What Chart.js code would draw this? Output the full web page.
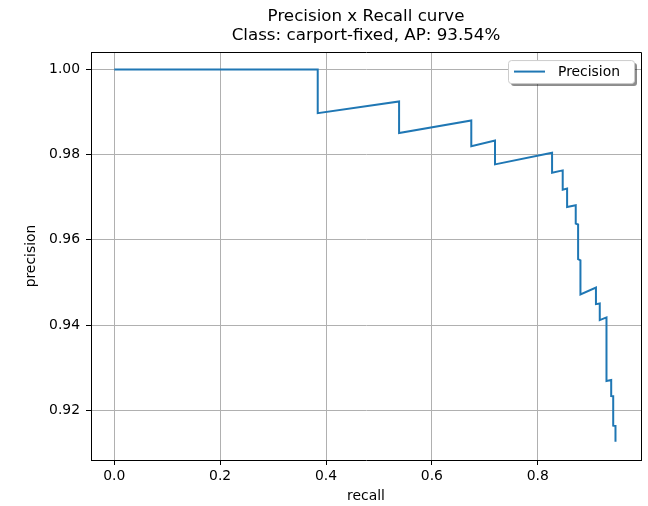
<!DOCTYPE html>
<html>
<head>
<meta charset="utf-8">
<script src="https://cdn.jsdelivr.net/npm/chart.js@4.4.1/dist/chart.umd.min.js"></script>
<style>
  html, body { margin: 0; padding: 0; background: #fff; }
  #wrap { width: 648px; height: 506px; }
</style>
</head>
<body>
<div id="wrap"><canvas id="prChart" width="648" height="506"></canvas></div>
<script>
// values
const recall = [0.0, 0.3843, 0.3843, 0.538, 0.538, 0.6744, 0.6744, 0.7192, 0.7192, 0.827, 0.827,
  0.8471, 0.8471, 0.8554, 0.8554, 0.8717, 0.8717, 0.8762, 0.8762, 0.8806, 0.8806, 0.9099, 0.9099,
  0.9171, 0.9171, 0.9298, 0.9298, 0.9387, 0.9387, 0.9425, 0.9425, 0.9468, 0.9468];
const precision = [1.0, 1.0, 0.98975, 0.9925, 0.98507, 0.98804, 0.982, 0.98335, 0.97773, 0.98047, 0.97578,
  0.97632, 0.97179, 0.97203, 0.96772, 0.96811, 0.96382, 0.9636, 0.95545, 0.9552, 0.94717, 0.94881, 0.9449,
  0.94506, 0.94115, 0.94178, 0.92685, 0.92708, 0.92333, 0.9233, 0.91637, 0.9163, 0.91261];
const xTicks = [0.0, 0.2, 0.4, 0.6, 0.8];
const yTicks = [0.92, 0.94, 0.96, 0.98, 1.00];
const titleLines = ['Precision x Recall curve', 'Class: carport-fixed, AP: 93.54%'];
const seriesName = 'Precision';

const FONT = 'DejaVu Sans';
const LINE_COLOR = '#1f77b4';

// top + right spines, matplotlib style
const framePlugin = {
  id: 'frame',
  afterDraw(chart) {
    const { ctx, chartArea: a } = chart;
    ctx.save();
    ctx.strokeStyle = '#000';
    ctx.lineWidth = 1;
    ctx.beginPath();
    ctx.moveTo(Math.round(a.left) + 0.5, Math.round(a.top) + 0.5);
    ctx.lineTo(Math.round(a.right) + 0.5, Math.round(a.top) + 0.5);
    ctx.lineTo(Math.round(a.right) + 0.5, Math.round(a.bottom) + 0.5);
    ctx.stroke();
    ctx.restore();
  }
};

// legend box in the upper right corner with a shadow
const legendBox = {
  id: 'legendBox',
  afterDraw(chart) {
    const { ctx, chartArea: a } = chart;
    const w = 126, h = 23;
    const x = a.right - 7 - w, y = a.top + 8;
    const rr = (px, py) => {
      ctx.beginPath();
      ctx.roundRect(px, py, w, h, 3);
    };
    ctx.save();
    ctx.fillStyle = 'rgba(0,0,0,0.45)';
    rr(x + 3, y + 3);
    ctx.fill();
    ctx.fillStyle = '#fff';
    ctx.strokeStyle = '#cccccc';
    ctx.lineWidth = 1;
    rr(x + 0.5, y + 0.5);
    ctx.fill();
    ctx.stroke();

    ctx.strokeStyle = LINE_COLOR;
    ctx.lineWidth = 2;
    ctx.beginPath();
    ctx.moveTo(x + 6, y + 11.5);
    ctx.lineTo(x + 37, y + 11.5);
    ctx.stroke();

    ctx.fillStyle = '#000';
    ctx.font = '13.9px "' + FONT + '"';
    ctx.textBaseline = 'middle';
    ctx.fillText(seriesName, x + 50, y + 12);
    ctx.restore();
  }
};

const points = recall.map((r, i) => ({ x: r, y: precision[i] }));

new Chart(document.getElementById('prChart'), {
  type: 'line',
  data: {
    datasets: [{
      label: seriesName,
      data: points,
      borderColor: LINE_COLOR,
      borderWidth: 2,
      pointRadius: 0,
      tension: 0,
      fill: false
    }]
  },
  options: {
    responsive: false,
    animation: false,
    layout: { padding: { left: 0, right: 7, top: 0, bottom: 0 } },
    plugins: {
      legend: { display: false },
      tooltip: { enabled: false },
      title: {
        display: true,
        fullSize: false,
        text: titleLines,
        color: '#000',
        font: { family: FONT, size: 16.7, weight: 'normal', lineHeight: 1.14 },
        padding: { top: 7, bottom: 7 }
      }
    },
    scales: {
      x: {
        type: 'linear',
        min: -0.044,
        max: 0.995,
        afterBuildTicks: (s) => { s.ticks = xTicks.map(v => ({ value: v })); },
        afterFit: (s) => { s.height = 46; },
        ticks: {
          autoSkip: false,
          maxRotation: 0,
          padding: 3,
          color: '#000',
          font: { family: FONT, size: 13.9 },
          callback: (v) => v.toFixed(1)
        },
        grid: { color: '#b0b0b0', lineWidth: 1, tickLength: 5, tickColor: '#000' },
        border: { color: '#000', width: 1 },
        title: {
          display: true,
          text: 'recall',
          color: '#000',
          font: { family: FONT, size: 13.9 },
          padding: { top: 0, bottom: 1 }
        }
      },
      y: {
        type: 'linear',
        min: 0.9083,
        max: 1.0041,
        afterBuildTicks: (s) => { s.ticks = yTicks.map(v => ({ value: v })); },
        afterFit: (s) => { s.width = 91; },
        ticks: {
          autoSkip: false,
          padding: 6,
          color: '#000',
          font: { family: FONT, size: 13.9 },
          callback: (v) => v.toFixed(2)
        },
        grid: { color: '#b0b0b0', lineWidth: 1, tickLength: 5, tickColor: '#000' },
        border: { color: '#000', width: 1 },
        title: {
          display: true,
          text: 'precision',
          color: '#000',
          font: { family: FONT, size: 13.9 },
          padding: { top: 23, bottom: 0 }
        }
      }
    }
  },
  plugins: [framePlugin, legendBox]
});
</script>
</body>
</html>
